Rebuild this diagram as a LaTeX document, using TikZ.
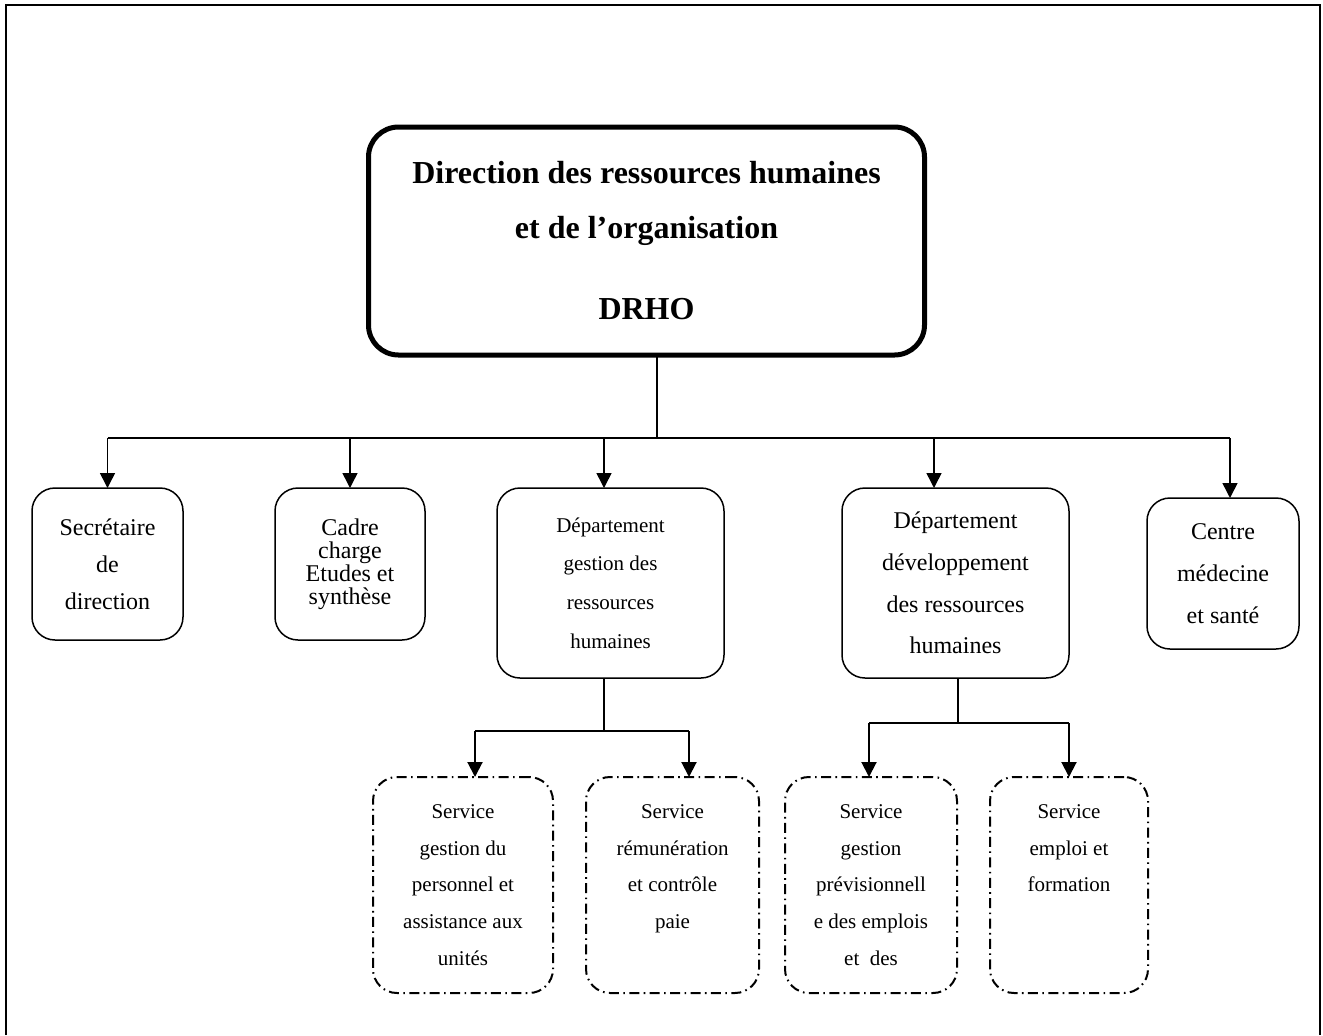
\documentclass[tikz,border=0pt]{standalone}
\usepackage{fontspec}
\setmainfont{Liberation Serif}
\usetikzlibrary{arrows.meta}
\usetikzlibrary{positioning}
\tikzstyle{base}=[x=0.5pt, y=-0.5pt, inner sep=0pt, outer sep=0pt]
\tikzstyle{head}=[draw, line width=2.5pt, rounded corners=15pt, minimum width=278pt, minimum height=114pt, align=center, font=\bfseries\fontsize{16}{27.5}\selectfont]
\tikzstyle{unit}=[draw, line width=0.75pt, rounded corners=11.5pt, align=center, font=\fontsize{12}{18.5}\selectfont]
\tikzstyle{service}=[draw, line width=1pt, rounded corners=12pt, dash pattern=on 5pt off 2.2pt on 0.8pt off 2.2pt, align=center, minimum height=108pt, font=\fontsize{10.5}{18.4}\selectfont]
\tikzstyle{link}=[line width=0.75pt]
\tikzstyle{arrow}=[link, -{Triangle[length=7.5pt, width=7.5pt]}]

\begin{document}
\begin{tikzpicture}[base]
    \path [use as bounding box] (0,0) rectangle (1323,1035);
    \draw [line width=1pt] (6,1035) -- (6,5) -- (1320,5) -- (1320,1035);
        % direction
        \node [head] (drho) at (646.5,241) {Direction des ressources humaines\\ et de l'organisation\\[13pt] DRHO};
        % first level
        \node [unit, minimum width=75.5pt, minimum height=76pt] (secr) at (107.5,564) {Secrétaire\\ de\\ direction};
        \node [unit, minimum width=75pt, minimum height=76pt, font=\fontsize{12}{11.5}\selectfont] (cadre) at (350,564) {Cadre\\ charge\\ Etudes et\\ synthèse};
        \node [unit, minimum width=113.5pt, minimum height=95pt, font=\fontsize{10.5}{19.3}\selectfont] (dgrh) at (610.5,583) {Département\\ gestion des\\ ressources\\ humaines};
        \node [unit, minimum width=113.5pt, minimum height=95pt, font=\fontsize{12}{20.8}\selectfont] (ddrh) at (955.5,583) {Département\\ développement\\ des ressources\\ humaines};
        \node [unit, minimum width=76pt, minimum height=75.5pt, font=\fontsize{12}{21}\selectfont] (cms) at (1223,573.5) {Centre\\ médecine\\ et santé};
        % services
        \node [service, minimum width=90pt] (sgp) at (463,885) {Service\\ gestion du\\ personnel et\\ assistance aux\\ unités};
        \node [service, minimum width=86.5pt] (srcp) at (672.5,885) {Service\\ rémunération\\ et contrôle\\ paie\\ ~};
        \node [service, minimum width=86pt] (sgpe) at (871,885) {Service\\ gestion\\ prévisionnell\\ e des emplois\\ et\ \ des};
        \node [service, minimum width=79pt] (sef) at (1069,885) {Service\\ emploi et\\ formation\\ ~\\ ~};
        % bus under the direction
        \coordinate (bus) at (657,438);
        \coordinate (t3) at ([xshift=-3.25pt]dgrh.north);
        \coordinate (t4) at ([xshift=-10.75pt]ddrh.north);
        \coordinate (t5) at ([xshift=3.5pt]cms.north);
        \draw [link] (drho.south -| bus) -- (bus);
        \draw [link] (secr.north |- bus) -- (t5 |- bus);
        \foreach \t in {secr.north, cadre.north, t3, t4, t5}
            \draw [arrow] (\t |- bus) -- (\t);
        % services of dgrh
        \coordinate (j1) at ([xshift=-3.25pt]dgrh.south);
        \coordinate (b1) at ([yshift=-26.5pt]j1);
        \coordinate (u1) at ([xshift=6pt]sgp.north);
        \coordinate (u2) at ([xshift=8.25pt]srcp.north);
        \draw [link, line width=1pt] (j1) -- (b1);
        \draw [link, line width=1pt] (u1 |- b1) -- (u2 |- b1);
        \foreach \t in {u1, u2}
            \draw [arrow, line width=1pt] (\t |- b1) -- (\t);
        % services of ddrh
        \coordinate (j2) at ([xshift=1.25pt]ddrh.south);
        \coordinate (b2) at ([yshift=-22.5pt]j2);
        \coordinate (u3) at ([xshift=-1pt]sgpe.north);
        \coordinate (u4) at (sef.north);
        \draw [link, line width=1pt] (j2) -- (b2);
        \draw [link, line width=1pt] (u3 |- b2) -- (u4 |- b2);
        \foreach \t in {u3, u4}
            \draw [arrow, line width=1pt] (\t |- b2) -- (\t);
\end{tikzpicture}
\end{document}
